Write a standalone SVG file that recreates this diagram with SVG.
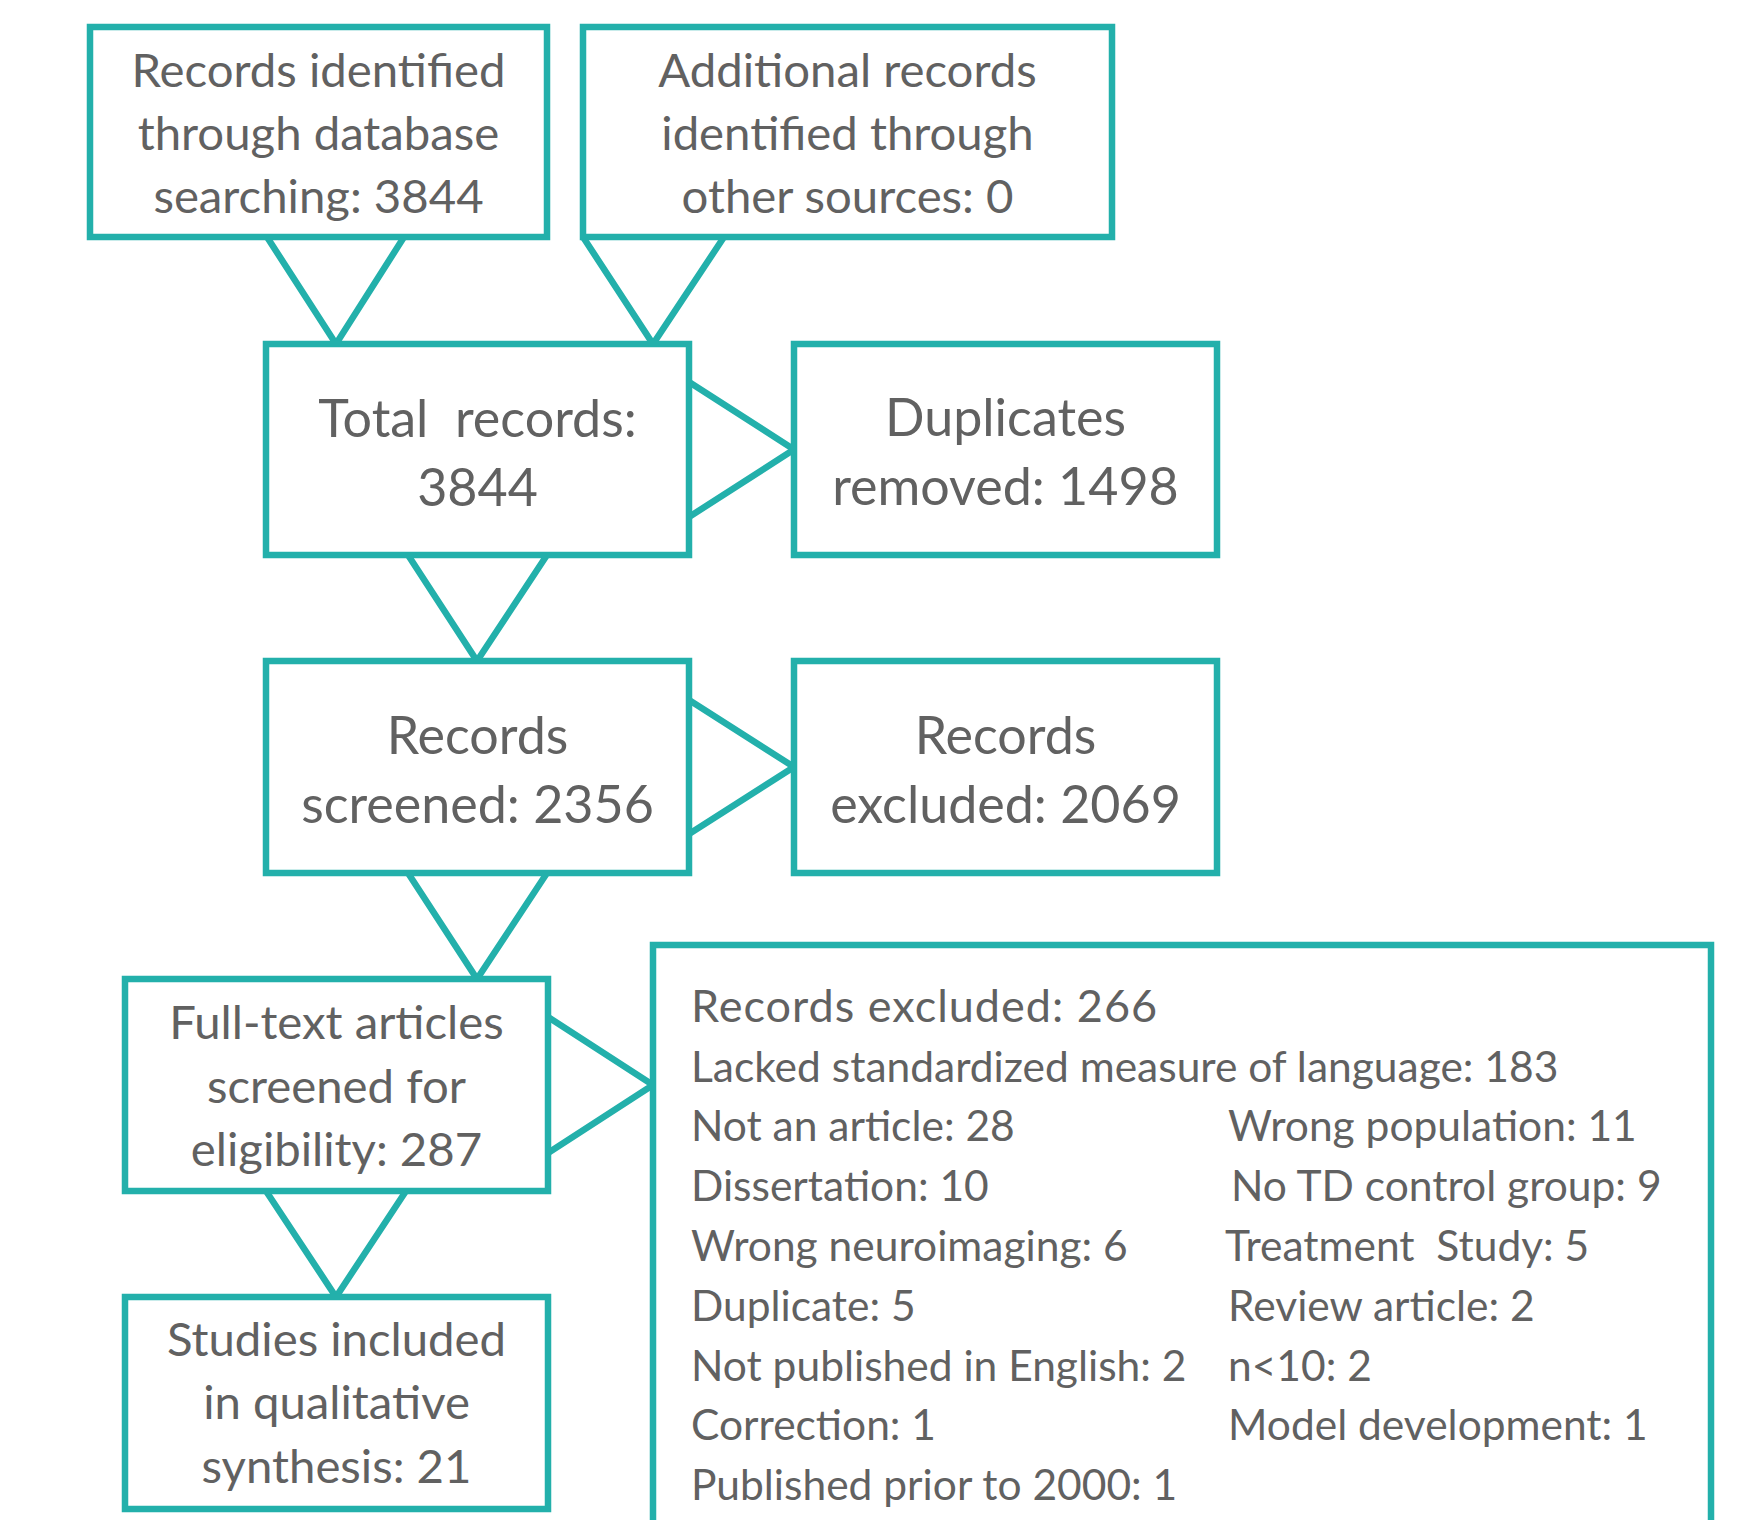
<svg xmlns="http://www.w3.org/2000/svg" width="1749" height="1520" viewBox="0 0 1749 1520">
<style>
.box{fill:#fff;stroke:#23b0ab;stroke-width:6.5}
.con{fill:none;stroke:#23b0ab;stroke-width:6.5;stroke-linejoin:miter}
text{font-family:Lato,"Open Sans","Liberation Sans",sans-serif;fill:#616161}
.s{font-size:47.3px;text-anchor:middle}
.m{font-size:52px;text-anchor:middle}
.l{font-size:42.5px}
.h{font-size:45px;letter-spacing:1px}
.pre{white-space:pre}
</style>
<rect width="1749" height="1520" fill="#fff"/>
<g id="connectors">
<polyline class="con" points="267,237 336,344 404,237"/>
<polyline class="con" points="583,237 653,344 724,237"/>
<polyline class="con" points="689,382 794,449.5 689,517"/>
<polyline class="con" points="408,555 477,661 547,555"/>
<polyline class="con" points="689,700 794,767 689,834"/>
<polyline class="con" points="408,873 477,979 547,873"/>
<polyline class="con" points="548,1017 653,1085 548,1153"/>
<polyline class="con" points="266,1191 336,1297 406,1191"/>
</g>
<g id="n1">
<rect class="box" x="90" y="27" width="457" height="210"/>
<text class="s" x="318.5" y="87">Records identified</text>
<text class="s" x="318.5" y="150">through database</text>
<text class="s" x="318.5" y="213">searching: 3844</text>
</g>
<g id="n2">
<rect class="box" x="583" y="27" width="529" height="210"/>
<text class="s" x="847.5" y="87">Additional records</text>
<text class="s" x="847.5" y="150">identified through</text>
<text class="s" x="847.5" y="213">other sources: 0</text>
</g>
<g id="n3">
<rect class="box" x="266" y="344" width="423" height="211"/>
<text class="m pre" x="477.5" y="437">Total  records:</text>
<text class="m" x="477.5" y="506">3844</text>
</g>
<g id="n4">
<rect class="box" x="794" y="344" width="423" height="211"/>
<text class="m" x="1005.5" y="436">Duplicates</text>
<text class="m" x="1005.5" y="505">removed: 1498</text>
</g>
<g id="n5">
<rect class="box" x="266" y="661" width="423" height="212"/>
<text class="m" x="477.5" y="754">Records</text>
<text class="m" x="477.5" y="823">screened: 2356</text>
</g>
<g id="n6">
<rect class="box" x="794" y="661" width="423" height="212"/>
<text class="m" x="1005.5" y="754">Records</text>
<text class="m" x="1005.5" y="823">excluded: 2069</text>
</g>
<g id="n7">
<rect class="box" x="125" y="979" width="423" height="212"/>
<text class="s" x="336.5" y="1039">Full-text articles</text>
<text class="s" x="336.5" y="1103">screened for</text>
<text class="s" x="336.5" y="1166">eligibility: 287</text>
</g>
<g id="n8">
<rect class="box" x="653" y="945" width="1058" height="620"/>
<text class="h" x="691" y="1022">Records excluded: 266</text>
<text class="l" x="691" y="1082">Lacked standardized measure of language: 183</text>
<text class="l" x="691" y="1141">Not an article: 28</text>
<text class="l" x="691" y="1201">Dissertation: 10</text>
<text class="l" x="691" y="1261">Wrong neuroimaging: 6</text>
<text class="l" x="691" y="1321">Duplicate: 5</text>
<text class="l" x="691" y="1381">Not published in English: 2</text>
<text class="l" x="691" y="1440">Correction: 1</text>
<text class="l" x="691" y="1500">Published prior to 2000: 1</text>
<text class="l" x="1228" y="1141">Wrong population: 11</text>
<text class="l" x="1231" y="1201">No TD control group: 9</text>
<text class="l pre" x="1225" y="1261">Treatment  Study: 5</text>
<text class="l" x="1228" y="1321">Review article: 2</text>
<text class="l" x="1228" y="1381">n&lt;10: 2</text>
<text class="l" x="1228" y="1440">Model development: 1</text>
</g>
<g id="n9">
<rect class="box" x="125" y="1297" width="423" height="212"/>
<text class="s" x="336.5" y="1356">Studies included</text>
<text class="s" x="336.5" y="1419">in qualitative</text>
<text class="s" x="336.5" y="1483">synthesis: 21</text>
</g>
</svg>
